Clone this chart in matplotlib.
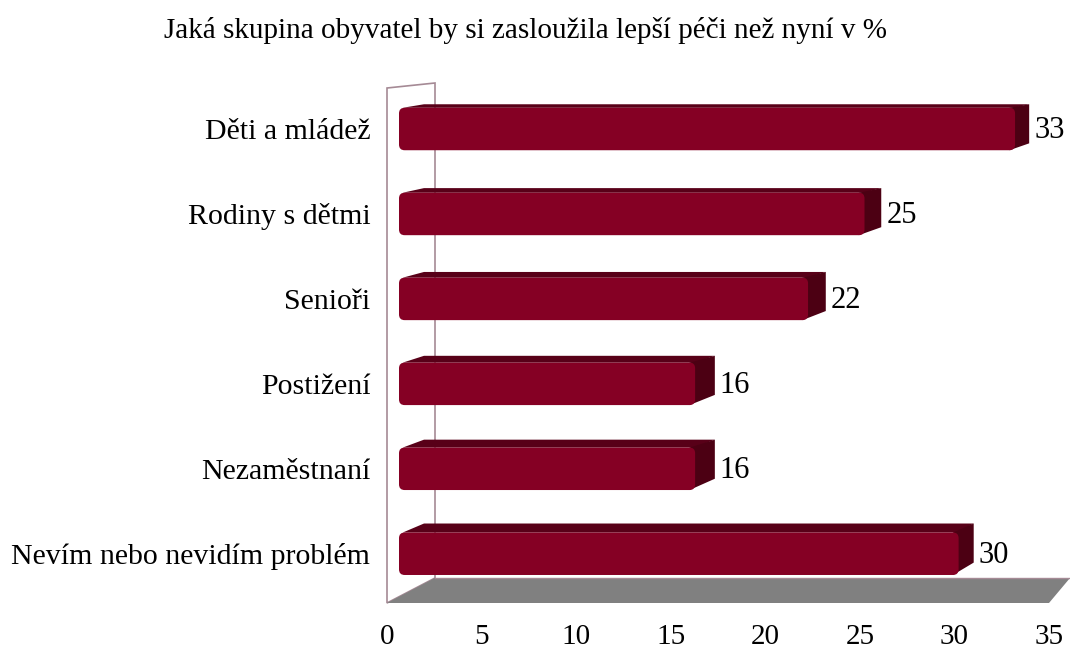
import numpy as np
import matplotlib
matplotlib.use("Agg")
import matplotlib.pyplot as plt
from matplotlib.patches import Polygon, FancyBboxPatch

plt.rcParams['font.family'] = ['Liberation Serif', 'DejaVu Serif']

# data
categories = ["Děti a mládež", "Rodiny s dětmi", "Senioři", "Postižení",
              "Nezaměstnaní", "Nevím nebo nevidím problém"]
values = [33, 25, 22, 16, 16, 30]
ticks = [0, 5, 10, 15, 20, 25, 30, 35]
title = "Jaká skupina obyvatel by si zasloužila lepší péči než nyní v %"

# colours
FRONT = "#850024"
TOP = "#580018"
SIDE = "#4c0013"
WALL_EDGE = "#a58a95"
FLOOR = "#808080"

W, H = 1070, 654
fig = plt.figure(figsize=(W / 100, H / 100), dpi=100)

# axes: x 0..35 along the front floor edge, y = category index (top to bottom)
x_left, x_right = 387, 1049
y_floor, y_top = 603, 83
ax = fig.add_axes([x_left / W, 1 - y_floor / H,
                   (x_right - x_left) / W, (y_floor - y_top) / H])
px_x = (x_right - x_left) / 35.0          # pixels per value unit
px_y = 84.95                              # pixels per category step
c0 = 129                                  # pixel y of first bar centre
ylo = (y_floor - c0) / px_y
yhi = (y_top - c0) / px_y
ax.set_xlim(0, 35)
ax.set_ylim(ylo, yhi)
for s in ax.spines.values():
    s.set_visible(False)

# side wall and floor (simple oblique depth)
back_dx = 48 / px_x
back_dy = 25 / px_y
wall = Polygon([(0, ylo), (0, (88 - c0) / px_y), (back_dx, (83 - c0) / px_y),
                (back_dx, ylo - back_dy)], closed=True, facecolor="white",
               edgecolor=WALL_EDGE, lw=1.2, clip_on=False, zorder=1)
ax.add_patch(wall)
floor = Polygon([(0, ylo), (back_dx, ylo - back_dy),
                 (35 + 21 / px_x, ylo - back_dy), (35, ylo)], closed=True,
                facecolor=FLOOR, edgecolor="none", clip_on=False, zorder=1)
ax.add_patch(floor)
ax.plot([back_dx, 35 + 21 / px_x], [ylo - back_dy, ylo - back_dy],
        color=WALL_EDGE, lw=1, clip_on=False, zorder=1)

# bars
half = 0.25
left = 12 / px_x
for i, v in enumerate(values):
    right = (7 + 18.82 * v) / px_x
    dx = (25 - 0.33 * v) / px_x
    dx0 = 25 / px_x
    dy = (3.5 + 1.1 * i) / px_y
    top, bot = i - half, i + half
    ax.add_patch(Polygon([(left + 0.2, top), (left + dx0, top - dy),
                          (right + dx, top - dy), (right, top)],
                         closed=True, facecolor=TOP, edgecolor="none",
                         clip_on=False, zorder=2))
    ax.add_patch(Polygon([(right - 0.3, top), (right + dx, top - dy),
                          (right + dx, bot - dy - 0.04), (right - 0.3, bot)],
                         closed=True, facecolor=SIDE, edgecolor="none",
                         clip_on=False, zorder=2))
    ax.add_patch(FancyBboxPatch((left, top), right - left, 2 * half,
                                boxstyle="round,pad=0,rounding_size=0.3",
                                mutation_aspect=px_x / px_y,
                                facecolor=FRONT, edgecolor="none",
                                clip_on=False, zorder=3))
    ax.text(right + dx + 5 / px_x, i + 0.02, str(v), ha="left", va="center",
            fontsize=22, clip_on=False, zorder=4)

ax.set_xticks(ticks)
ax.set_xticklabels([str(t) for t in ticks], fontsize=21)
ax.set_yticks(range(len(categories)))
ax.set_yticklabels(categories, fontsize=21.5)
ax.tick_params(axis="x", length=0, pad=15)
ax.tick_params(axis="y", length=0, pad=12)

fig.text(525 / W, 1 - 30 / H, title, ha="center", va="center", fontsize=21)

fig.savefig("out.png", dpi=100)
